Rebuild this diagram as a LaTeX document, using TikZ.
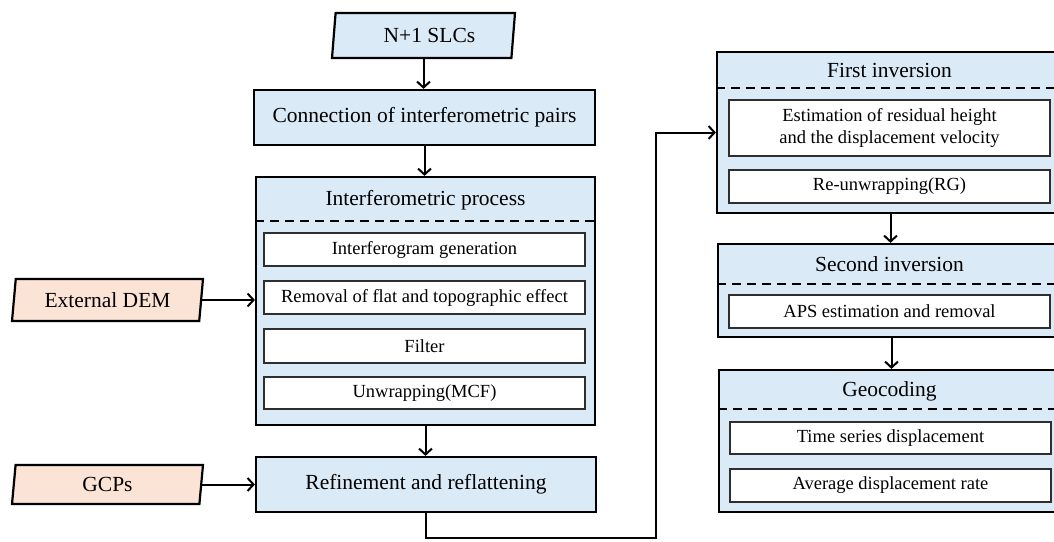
\documentclass[tikz,border=0pt]{standalone}
\usepackage{fontspec}
\setmainfont{Liberation Serif}
\usetikzlibrary{arrows.meta,shapes.geometric}
\definecolor{boxblue}{HTML}{DAEAF6}
\definecolor{peach}{HTML}{FBE3D5}
\definecolor{innerline}{HTML}{2E2E2E}
\tikzset{
  bigtext/.style={font=\fontsize{21.5}{25}\selectfont},
  smalltext/.style={font=\fontsize{18.5}{22}\selectfont},
  stage/.style={draw=black, line width=2.2pt, fill=boxblue, inner sep=0pt, bigtext},
  container/.style={draw=black, line width=2.2pt, fill=boxblue, inner sep=0pt},
  sub/.style={draw=innerline, line width=1.7pt, fill=white, inner sep=0pt,
              minimum width=321pt, smalltext, align=center},
  titletext/.style={inner sep=0pt, bigtext},
  io/.style={trapezium, trapezium left angle=76, trapezium right angle=104,
             trapezium stretches body, draw=black, line width=2.2pt, inner sep=0pt, bigtext},
  arr/.style={line width=2pt, -{Straight Barb[length=6pt,width=13pt]}},
  divider/.style={line width=2pt, dash pattern=on 9pt off 6pt},
}
\begin{document}
\begin{tikzpicture}[x=1pt,y=-1pt]
\useasboundingbox (0,0) rectangle (1054,541);
\clip (0,0) rectangle (1054,541);

% left column
\node[io, fill=boxblue, minimum width=183pt, minimum height=45pt] (slc) at (423.5,35.5) {\hspace*{12pt}N+1 SLCs};
\node[stage, minimum width=341pt, minimum height=55pt] (conn) at (424.5,117.5) {Connection of interferometric pairs};

\node[container, minimum width=339pt, minimum height=248pt] (interf) at (425.5,301) {};
\node[titletext] (interft) at (425.5,200) {Interferometric process};
\draw[divider] (interf.west |- 0,221) -- (interf.east |- 0,221);
\node[sub, minimum height=33pt] (ig) at (424.5,249.5) {Interferogram generation};
\node[sub, minimum height=33pt] (rm) at (424.5,297.5) {Removal of flat and topographic effect};
\node[sub, minimum height=34pt] (filt) at (424.5,346) {Filter};
\node[sub, minimum height=32pt] (unw) at (424.5,393) {Unwrapping(MCF)};

\node[io, fill=peach, minimum width=191pt, minimum height=42pt] (dem) at (107.5,300) {External DEM};
\node[io, fill=peach, minimum width=191pt, minimum height=39pt] (gcp) at (107.5,484.5) {GCPs};
\node[stage, minimum width=340pt, minimum height=55pt] (ref) at (426,484.5) {Refinement and reflattening};

% right column
\node[container, minimum width=347pt, minimum height=161pt] (fi) at (890.5,132.5) {};
\node[titletext] (fit) at (889.5,70) {First inversion};
\draw[divider] (fi.west |- 0,88) -- (fi.east |- 0,88);
\node[sub, minimum height=56pt] (est) at (889.5,128) {Estimation of residual height\\and the displacement velocity};
\node[sub, minimum height=33pt] (reu) at (889.5,186.5) {Re-unwrapping(RG)};

\node[container, minimum width=347pt, minimum height=93pt] (si) at (891.5,290.5) {};
\node[titletext] (sit) at (889.5,264) {Second inversion};
\draw[divider] (si.west |- 0,284) -- (si.east |- 0,284);
\node[sub, minimum height=33pt] (aps) at (889.5,311.5) {APS estimation and removal};

\node[container, minimum width=347pt, minimum height=142pt] (geo) at (892.5,441) {};
\node[titletext] (geot) at (889.5,391) {Geocoding};
\draw[divider] (geo.west |- 0,409) -- (geo.east |- 0,409);
\node[sub, minimum height=32pt] (ts) at (890.5,438) {Time series displacement};
\node[sub, minimum height=33pt] (avg) at (890.5,485.5) {Average displacement rate};

% connectors
\draw[arr] (slc.south) -- (slc.south |- conn.north);
\draw[arr] (conn.south) -- (conn.south |- interf.north);
\draw[arr] (interf.south) -- (interf.south |- ref.north);
\draw[arr] (dem.east) -- (dem.east -| interf.west);
\draw[arr] (gcp.east) -- (gcp.east -| ref.west);
\coordinate (loop) at (656,538);
\draw[arr] (ref.south) |- (loop) |- (fi.west);
\draw[arr] (fi.south) -- (fi.south |- si.north);
\draw[arr] (si.south) -- (si.south |- geo.north);
\end{tikzpicture}
\end{document}
